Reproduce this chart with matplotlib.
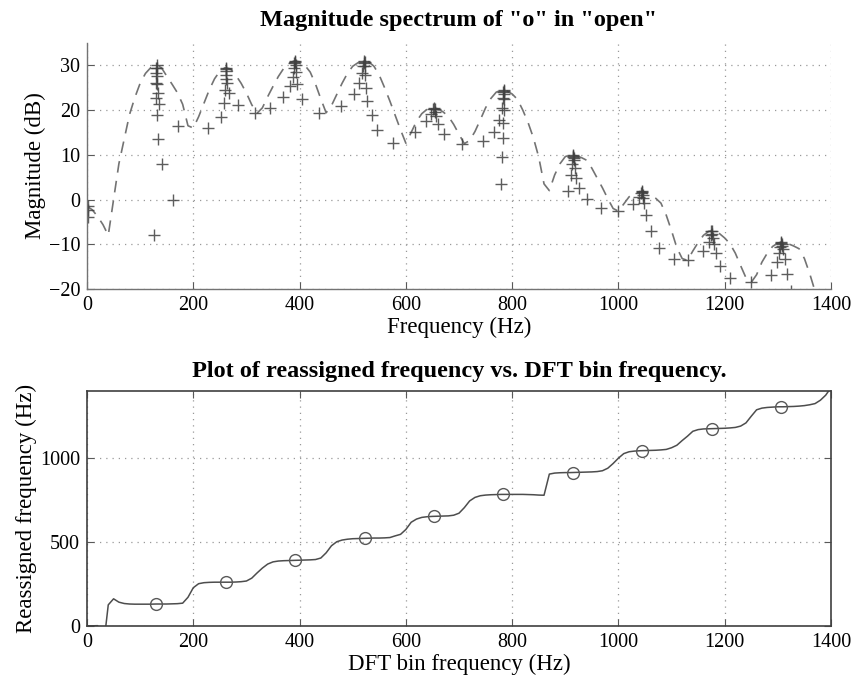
import numpy as np
import matplotlib
matplotlib.use("Agg")
import matplotlib.pyplot as plt

plt.rcParams['font.family'] = ['Liberation Serif', 'DejaVu Serif']
plt.rcParams['mathtext.fontset'] = 'stix'

# DFT bin frequencies (Hz)
bin_freq = list(range(0, 1410, 10))

# Magnitude spectrum at each DFT bin (dB)
magnitude_db = [
    -1.5, -2.3, -3.8, -5.6, -8.0, 0.0, 8.0, 13.5, 19.0, 22.8,
    26.0, 28.2, 29.5, 30.0, 29.5, 27.6, 25.8, 23.9, 21.3, 16.5,
    16.0, 18.5, 21.5, 24.5, 27.0, 28.7, 29.5, 29.2, 27.8, 26.0,
    23.8, 21.2, 19.3, 20.5, 23.0, 25.3, 27.5, 29.3, 30.5, 31.0,
    30.8, 30.0, 28.5, 25.8, 22.5, 19.4, 21.0, 23.5, 26.0, 28.2,
    29.8, 30.6, 31.0, 30.8, 29.8, 27.8, 25.0, 22.0, 18.8, 15.6,
    12.6, 15.0, 17.5, 19.2, 20.2, 20.5, 20.3, 19.6, 18.6, 16.8,
    14.6, 12.5, 13.2, 15.2, 17.8, 20.5, 22.6, 24.0, 24.5, 24.3,
    23.6, 22.4, 20.0, 17.2, 13.8, 9.5, 3.5, 2.0, 5.5, 8.0,
    9.6, 10.0, 9.8, 9.4, 8.8, 7.0, 4.8, 2.6, 0.2, -2.0,
    -2.6, -1.0, 0.6, 1.4, 1.8, 1.7, 1.0, 0.3, -0.8, -3.5,
    -7.0, -10.8, -13.2, -13.6, -11.5, -9.6, -8.0, -7.1, -7.0, -7.6,
    -8.6, -9.9, -12.0, -14.8, -17.5, -18.5, -16.8, -14.0, -12.0, -10.5,
    -9.7, -9.5, -9.9, -10.4, -11.0, -13.2, -16.6, -20.5, -24.0, -27.0,
    -30.0,
]

# Reassigned frequency of each DFT bin (Hz)
reassigned_freq = [
    1, 1, 2, -150, 126, 162, 142, 134, 131, 130,
    130, 130, 130, 131, 131, 131, 132, 133, 136, 171,
    228, 252, 258, 260, 261, 261, 261, 261, 262, 264,
    268, 285, 316, 345, 369, 382, 387, 389, 390, 391,
    392, 393, 394, 396, 405, 436, 478, 502, 512, 517,
    520, 521, 522, 523, 524, 524, 525, 527, 537, 546,
    575, 618, 637, 647, 651, 653, 654, 655, 656, 660,
    672, 705, 745, 766, 776, 780, 782, 783, 784, 784,
    784, 784, 784, 783, 782, 780, 779, 905, 911, 913,
    914, 914, 915, 916, 917, 918, 920, 925, 940, 968,
    1000, 1027, 1038, 1042, 1044, 1045, 1046, 1047, 1049, 1052,
    1062, 1077, 1105, 1131, 1160, 1170, 1174, 1175, 1176, 1177,
    1178, 1180, 1183, 1191, 1210, 1250, 1288, 1298, 1302, 1304,
    1306, 1306, 1307, 1308, 1310, 1313, 1318, 1325, 1345, 1375,
    1420,
]

# Harmonic frequencies (Hz), marked with circles
harmonics = [130.6, 261.2, 391.8, 522.4, 653.0, 783.6, 914.2, 1044.8, 1175.4, 1306.0]

title_top = 'Magnitude spectrum of "o" in "open"'
title_bottom = 'Plot of reassigned frequency vs. DFT bin frequency.'

W, H = 856, 686
fig = plt.figure(figsize=(W / 100, H / 100), dpi=100)

def frac(l, t, r, b):
    return [l / W, 1 - b / H, (r - l) / W, (b - t) / H]

tick_fs = 14.5
label_fs = 16.5
title_fs = 17.5

# ---- top axes ----
ax1 = fig.add_axes(frac(87, 43, 831, 289))
ax1.plot(bin_freq, magnitude_db, linestyle=(0, (7, 5)), color='0.45', lw=1.2)
ax1.plot(reassigned_freq, magnitude_db, linestyle='none', marker='+',
         color='0.25', markersize=8, mew=1.0, alpha=0.85)
ax1.set_xlim(0, 1400)
ax1.set_ylim(-20, 35)
ax1.set_xticks(range(0, 1401, 200))
ax1.set_yticks(range(-20, 31, 10))
ax1.spines['top'].set_visible(False)
ax1.spines['right'].set_visible(False)
for s in ('left', 'bottom'):
    ax1.spines[s].set_color('0.45')
    ax1.spines[s].set_linewidth(1.0)
ax1.tick_params(direction='in', length=5, colors='0.35', labelcolor='black',
                labelsize=tick_fs)
ax1.tick_params(axis='x', pad=5)
ax1.tick_params(axis='y', pad=5)
ax1.grid(True, linestyle=(0, (1, 4)), color='0.6', lw=0.9)
ax1.set_xlabel('Frequency (Hz)', fontsize=label_fs, labelpad=1)
ax1.set_ylabel('Magnitude (dB)', fontsize=label_fs, labelpad=2)
ax1.set_title(title_top, fontsize=title_fs, fontweight='bold', pad=12)

# ---- bottom axes ----
ax2 = fig.add_axes(frac(87, 391, 831, 626))
ax2.plot(bin_freq, reassigned_freq, color='0.3', lw=1.1)
ax2.plot(harmonics, harmonics, linestyle='none', marker='o', markersize=8.5,
         markerfacecolor='none', markeredgecolor='0.35', mew=1.0)
ax2.set_xlim(0, 1400)
ax2.set_ylim(0, 1400)
ax2.set_xticks(range(0, 1401, 200))
ax2.set_yticks([0, 500, 1000])
for s in ax2.spines.values():
    s.set_color('0.25')
    s.set_linewidth(1.2)
ax2.tick_params(direction='in', length=5, top=True, right=True, colors='0.35',
                labelcolor='black', labelsize=tick_fs)
ax2.tick_params(axis='x', pad=5)
ax2.tick_params(axis='y', pad=5)
ax2.grid(True, linestyle=(0, (1, 4)), color='0.6', lw=0.9)
ax2.set_xlabel('DFT bin frequency (Hz)', fontsize=label_fs, labelpad=1)
ax2.set_ylabel('Reassigned frequency (Hz)', fontsize=label_fs, labelpad=2)
ax2.set_title(title_bottom, fontsize=title_fs, fontweight='bold', pad=10)

fig.savefig('out.png', dpi=100)
